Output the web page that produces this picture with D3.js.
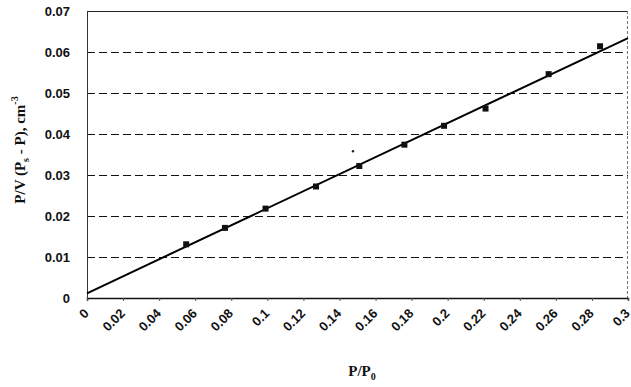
<!DOCTYPE html>
<html>
<head>
<meta charset="utf-8">
<script src="https://cdn.jsdelivr.net/npm/d3@7"></script>
<style>
  body { margin: 0; background: #fff; }
  svg { display: block; }
</style>
</head>
<body>
<svg id="canvas" width="631" height="387"></svg>
<script>
// measured points, P/P0 vs P/V(Ps-P)
var xVals = [0.055, 0.0765, 0.099, 0.127, 0.151, 0.176, 0.198, 0.221, 0.256, 0.2845]
var yVals = [0.0131, 0.0171, 0.0218, 0.0272, 0.0322, 0.0374, 0.0420, 0.0462, 0.0546, 0.0614]
// stray speck in the scan
var strayX = [0.1475]
var strayY = [0.0358]
// fitted line ends
var fitX = [0, 0.3]
var fitY = [0.00115, 0.0634]

var xTicks = [0, 0.02, 0.04, 0.06, 0.08, 0.1, 0.12, 0.14, 0.16, 0.18, 0.2, 0.22, 0.24, 0.26, 0.28, 0.3]
var yTicks = [0, 0.01, 0.02, 0.03, 0.04, 0.05, 0.06, 0.07]

var plotLeft = 87, plotRight = 628, plotTop = 11, plotBottom = 298

window.onload = function(){
    drawChart()
}

function drawChart(){
    var svg = d3.select('#canvas')
    var x = d3.scaleLinear().domain([0, 0.3]).range([plotLeft, plotRight])
    var y = d3.scaleLinear().domain([0, 0.07]).range([plotBottom, plotTop])

    // dashed grid
    svg.append('g')
        .selectAll('line')
        .data(yTicks.slice(1, -1))
        .join('line')
        .attr('x1', plotLeft).attr('x2', plotRight)
        .attr('y1', d => Math.round(y(d)) + 0.5).attr('y2', d => Math.round(y(d)) + 0.5)
        .attr('stroke', '#111')
        .attr('stroke-width', 1)
        .attr('stroke-dasharray', '8,4')

    // frame
    svg.append('line').attr('x1', plotLeft).attr('x2', plotRight).attr('y1', plotTop + 0.5).attr('y2', plotTop + 0.5)
        .attr('stroke', '#222').attr('stroke-width', 1)
    svg.append('line').attr('x1', plotRight - 0.5).attr('x2', plotRight - 0.5).attr('y1', plotTop).attr('y2', plotBottom)
        .attr('stroke', '#777').attr('stroke-width', 1).attr('stroke-dasharray', '3,2')

    // axes
    var fmt = d => String(+d.toFixed(2))
    var xAxis = d3.axisBottom(x).tickValues(xTicks).tickSize(3).tickFormat(fmt)
    var gx = svg.append('g').attr('transform', 'translate(0,' + plotBottom + ')').call(xAxis)
    gx.select('.domain').attr('stroke', '#111').attr('stroke-width', 1.5)
    gx.selectAll('.tick line').attr('stroke', '#555')
    gx.selectAll('text')
        .attr('font-family', 'Arial, Liberation Sans, sans-serif')
        .attr('font-size', 13)
        .attr('font-weight', 'bold')
        .attr('fill', '#111')
        .attr('text-anchor', 'end')
        .attr('y', 0)
        .attr('dy', '0.35em')
        .attr('transform', 'translate(-1,13) rotate(-45)')

    var yAxis = d3.axisLeft(y).tickValues(yTicks).tickSize(0).tickPadding(17).tickFormat(fmt)
    var gy = svg.append('g').attr('transform', 'translate(' + plotLeft + ',0)').call(yAxis)
    gy.select('.domain').attr('stroke', '#333').attr('stroke-width', 1)
    gy.selectAll('text')
        .attr('font-family', 'Arial, Liberation Sans, sans-serif')
        .attr('font-size', 13)
        .attr('font-weight', 'bold')
        .attr('fill', '#111')

    // fit line
    var line = d3.line().x(d => x(d[0])).y(d => y(d[1]))
    svg.append('path')
        .datum(d3.zip(fitX, fitY))
        .attr('d', line)
        .attr('fill', 'none')
        .attr('stroke', '#000')
        .attr('stroke-width', 2)

    // markers
    svg.append('g')
        .selectAll('rect')
        .data(d3.zip(xVals, yVals))
        .join('rect')
        .attr('x', d => x(d[0]) - 3)
        .attr('y', d => y(d[1]) - 3)
        .attr('width', 6)
        .attr('height', 6)
        .attr('fill', '#111')

    svg.append('g')
        .selectAll('circle')
        .data(d3.zip(strayX, strayY))
        .join('circle')
        .attr('cx', d => x(d[0]))
        .attr('cy', d => y(d[1]))
        .attr('r', 1.2)
        .attr('fill', '#222')

    // axis titles
    var title = svg.append('text')
        .attr('font-family', 'Times New Roman, Liberation Serif, serif')
        .attr('font-weight', 'bold')
        .attr('font-size', 15)
        .attr('fill', '#111')
        .attr('text-anchor', 'middle')
        .attr('transform', 'translate(25,150) rotate(-90)')
    title.append('tspan').text('P/V (P')
    title.append('tspan').attr('font-size', 10).attr('dy', 4).text('s')
    title.append('tspan').attr('dy', -4).text(' - P), cm')
    title.append('tspan').attr('font-size', 10).attr('dy', -7).text('-3')

    var xt = svg.append('text')
        .attr('font-family', 'Times New Roman, Liberation Serif, serif')
        .attr('font-weight', 'bold')
        .attr('font-size', 15)
        .attr('fill', '#111')
        .attr('text-anchor', 'middle')
        .attr('x', 362)
        .attr('y', 376)
    xt.append('tspan').text('P/P')
    xt.append('tspan').attr('font-size', 10).attr('dy', 4).text('0')
}
</script>
</body>
</html>
